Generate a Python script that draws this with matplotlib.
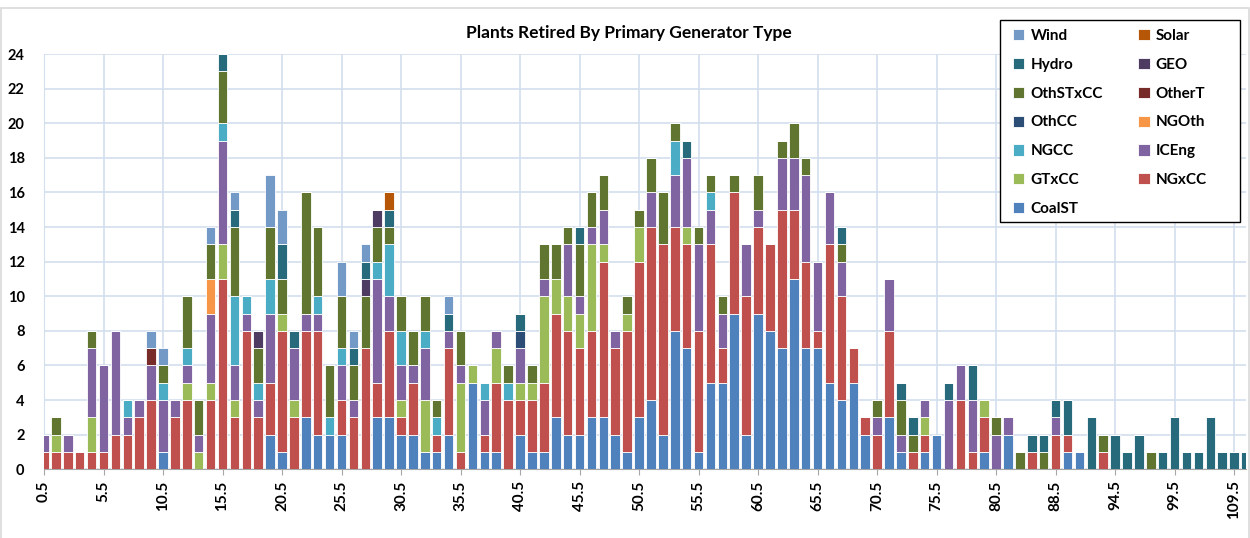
import numpy as np
import matplotlib
matplotlib.use("Agg")
import matplotlib.pyplot as plt
from matplotlib.patches import Rectangle

plt.rcParams['font.family'] = ['Lato', 'DejaVu Sans']

# ages (categories); only every 5th is labelled on the axis
ages = [a + 0.5 for a in range(81)] + [
    81.5, 82.5, 84.5, 86.5, 88.5, 89.5, 90.5, 91.5, 93.5, 94.5,
    95.5, 96.5, 97.5, 98.5, 99.5, 101.5, 103.5, 104.5, 106.5, 109.5, 111.5]

coal = [0, 0, 0, 0, 0, 0, 0, 0, 0, 0,
        1, 0, 0, 0, 0, 0, 0, 0, 0, 2,
        1, 0, 3, 2, 2, 2, 0, 0, 3, 3,
        2, 2, 1, 1, 2, 0, 5, 1, 1, 0,
        2, 1, 1, 3, 2, 2, 3, 3, 2, 1,
        3, 4, 2, 8, 7, 1, 5, 5, 9, 2,
        9, 8, 7, 11, 7, 7, 5, 4, 5, 2,
        0, 3, 1, 0, 1, 2, 0, 0, 0, 1,
        0, 2, 0, 0, 0, 0, 1, 1, 0, 0,
        0, 0, 0, 0, 0, 0, 0, 0, 0, 0,
        0, 0]
ngxcc = [1, 1, 1, 1, 1, 1, 2, 2, 3, 4,
         0, 3, 4, 0, 4, 11, 3, 8, 3, 3,
         7, 3, 5, 6, 0, 2, 3, 7, 2, 5,
         1, 3, 0, 1, 5, 1, 0, 1, 4, 4,
         2, 3, 4, 6, 6, 5, 5, 9, 5, 7,
         9, 10, 11, 6, 6, 7, 8, 2, 7, 8,
         5, 5, 8, 4, 5, 1, 8, 6, 2, 1,
         2, 5, 0, 1, 1, 0, 0, 4, 1, 2,
         0, 0, 0, 1, 0, 2, 1, 0, 0, 1,
         0, 0, 0, 0, 0, 0, 0, 0, 0, 0,
         0, 0]
gtxcc = [0, 1, 0, 0, 2, 0, 0, 0, 0, 0,
         0, 0, 1, 1, 1, 2, 1, 0, 0, 0,
         1, 1, 0, 0, 0, 0, 0, 0, 0, 0,
         1, 0, 3, 0, 0, 4, 1, 0, 2, 0,
         1, 1, 5, 2, 2, 2, 5, 1, 0, 1,
         2, 0, 0, 0, 1, 0, 0, 0, 0, 0,
         0, 0, 0, 0, 0, 0, 0, 0, 0, 0,
         0, 0, 0, 0, 1, 0, 0, 0, 0, 1,
         0, 0, 0, 0, 0, 0, 0, 0, 0, 0,
         0, 0, 0, 0, 0, 0, 0, 0, 0, 0,
         0, 0]
iceng = [1, 0, 1, 0, 4, 5, 6, 1, 1, 2,
         3, 1, 1, 1, 4, 6, 2, 1, 1, 4,
         0, 3, 1, 1, 0, 2, 1, 0, 6, 2,
         2, 1, 3, 0, 1, 1, 0, 2, 1, 0,
         2, 0, 1, 0, 3, 1, 1, 2, 1, 0,
         0, 2, 0, 3, 4, 5, 2, 2, 0, 3,
         1, 0, 3, 3, 5, 4, 3, 2, 0, 0,
         1, 3, 1, 0, 1, 0, 4, 2, 3, 0,
         2, 1, 0, 0, 0, 1, 0, 0, 0, 0,
         0, 0, 0, 0, 0, 0, 0, 0, 0, 0,
         0, 0]
ngcc = [0, 0, 0, 0, 0, 0, 0, 1, 0, 0,
        1, 0, 1, 0, 0, 1, 4, 1, 1, 2,
        0, 0, 0, 1, 1, 1, 0, 0, 1, 3,
        2, 0, 1, 1, 0, 0, 0, 1, 0, 1,
        0, 0, 0, 0, 0, 0, 0, 0, 0, 0,
        0, 0, 0, 2, 0, 0, 1, 0, 0, 0,
        0, 0, 0, 0, 0, 0, 0, 0, 0, 0,
        0, 0, 0, 0, 0, 0, 0, 0, 0, 0,
        0, 0, 0, 0, 0, 0, 0, 0, 0, 0,
        0, 0, 0, 0, 0, 0, 0, 0, 0, 0,
        0, 0]
ngoth = [0] * 14 + [2] + [0] * 87
othcc = [0] * 40 + [1] + [0] * 61
othert = [0] * 9 + [1] + [0] * 92
othstxcc = [0, 1, 0, 0, 1, 0, 0, 0, 0, 0,
            1, 0, 3, 2, 2, 3, 4, 0, 2, 3,
            2, 0, 7, 4, 3, 3, 2, 3, 2, 1,
            2, 2, 2, 1, 0, 2, 0, 0, 0, 1,
            0, 1, 2, 2, 1, 3, 2, 2, 0, 1,
            1, 2, 3, 1, 0, 1, 1, 1, 1, 0,
            2, 0, 1, 2, 1, 0, 0, 1, 0, 0,
            1, 0, 2, 1, 0, 0, 0, 0, 0, 0,
            1, 0, 1, 0, 1, 0, 0, 0, 0, 1,
            0, 0, 0, 1, 0, 0, 0, 0, 0, 0,
            0, 0]
geo = [0] * 18 + [1] + [0] * 8 + [1, 1] + [0] * 73
hydro = [0, 0, 0, 0, 0, 0, 0, 0, 0, 0,
         0, 0, 0, 0, 0, 1, 1, 0, 0, 0,
         2, 1, 0, 0, 0, 0, 1, 1, 0, 1,
         0, 0, 0, 0, 1, 0, 0, 0, 0, 0,
         1, 0, 0, 0, 0, 1, 0, 0, 0, 0,
         0, 0, 0, 0, 1, 0, 0, 0, 0, 0,
         0, 0, 0, 0, 0, 0, 0, 1, 0, 0,
         0, 0, 1, 1, 0, 0, 1, 0, 2, 0,
         0, 0, 0, 1, 1, 1, 2, 0, 3, 0,
         2, 1, 2, 0, 1, 3, 1, 1, 3, 1,
         1, 1]
solar = [0] * 29 + [1] + [0] * 72
wind = [0, 0, 0, 0, 0, 0, 0, 0, 0, 1,
        1, 0, 0, 0, 1, 0, 1, 0, 0, 3,
        2, 0, 0, 0, 0, 2, 1, 1, 0, 0,
        0, 0, 0, 0, 1, 0, 0, 0, 0, 0] + [0] * 62

# stacking order bottom -> top
series = [
    ("CoalST", coal, "#4F81BD"),
    ("NGxCC", ngxcc, "#C0504D"),
    ("GTxCC", gtxcc, "#9BBB59"),
    ("ICEng", iceng, "#8064A2"),
    ("NGCC", ngcc, "#4BACC6"),
    ("NGOth", ngoth, "#F79646"),
    ("OthCC", othcc, "#2C4D75"),
    ("OtherT", othert, "#772C2A"),
    ("OthSTxCC", othstxcc, "#5F7530"),
    ("GEO", geo, "#4D3B62"),
    ("Hydro", hydro, "#276A7C"),
    ("Solar", solar, "#B65708"),
    ("Wind", wind, "#7399C6"),
]

fig = plt.figure(figsize=(12.5, 5.38), dpi=100)
ax = fig.add_axes([44 / 1250, 68.7 / 538, 1202 / 1250, 415.3 / 538])

x = np.arange(len(ages))
bottom = np.zeros(len(ages))
bars = {}
for name, vals, col in series:
    vals = np.array(vals, dtype=float)
    bars[name] = ax.bar(x, vals, bottom=bottom, width=0.8, color=col,
                        edgecolor='white', linewidth=0.6, zorder=3)
    bottom += vals

ax.set_xlim(0, len(ages) - 1)
ax.set_ylim(0, 24)
ax.set_yticks(range(0, 25, 2))
ax.set_xticks(x[::5])
ax.set_xticklabels([f"{a:.1f}" for a in ages[::5]], rotation=90,
                   fontweight='bold', fontsize=11)
for lbl in ax.get_yticklabels():
    lbl.set_fontweight('bold')
    lbl.set_fontsize(10.5)
ax.tick_params(axis='y', length=0, pad=14)
ax.tick_params(axis='x', length=4, width=0.8, color='#A6A6A6', pad=4)

ax.grid(True, color='#D3DFEE', linewidth=1.2, zorder=0)
ax.set_axisbelow(True)
for s in ['top', 'right']:
    ax.spines[s].set_visible(False)
ax.spines['left'].set_color('#D3DFEE')
ax.spines['bottom'].set_color('#A6A6A6')

fig.text(0.503, 1 - 33 / 538, "Plants Retired By Primary Generator Type",
         ha='center', va='center', fontsize=12.5, fontweight='bold')

# chart area border
fig.patches.append(Rectangle((0.001, -0.01), 0.998, 1 - 8 / 538 + 0.01,
                             transform=fig.transFigure, fill=False,
                             edgecolor='#D9D9D9', linewidth=1.2))

# legend box (drawn separately so it can be wider than its entries)
fig.add_artist(Rectangle((1000 / 1250, 1 - 222 / 538), 240 / 1250, 202 / 538,
                         transform=fig.transFigure, facecolor='white',
                         edgecolor='black', linewidth=1.0, zorder=4))

col1 = ["Wind", "Hydro", "OthSTxCC", "OthCC", "NGCC", "GTxCC", "CoalST"]
col2 = ["Solar", "GEO", "OtherT", "NGOth", "ICEng", "NGxCC"]
order = col1 + col2
leg = fig.legend([bars[n] for n in order], order, ncol=2, loc='upper left',
                 bbox_to_anchor=(1013 / 1250, 1 - 29 / 538),
                 prop={'weight': 'bold', 'size': 11}, frameon=False,
                 handlelength=0.75, handleheight=0.75, handletextpad=0.4,
                 labelspacing=0.97, columnspacing=2.3, borderpad=0,
                 borderaxespad=0)
leg.set_zorder(5)

fig.savefig("out.png", dpi=100)
